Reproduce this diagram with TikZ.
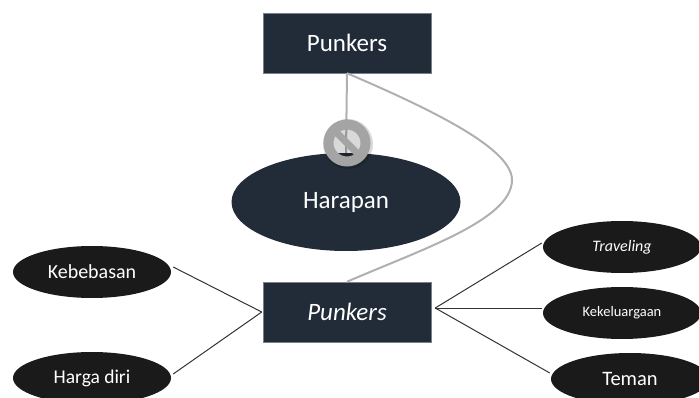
\documentclass[tikz,border=0pt]{standalone}
\usepackage{fontspec}
\setmainfont{Carlito}
\definecolor{navy}{HTML}{222B38}
\definecolor{coal}{HTML}{1A1A1A}
\definecolor{ringgray}{HTML}{A4A4A4}
\definecolor{edgegray}{HTML}{B0B0B0}
\tikzset{
    box/.style={rectangle, fill=navy, draw=navy!60, line width=0.5pt, text=white, minimum width=168pt, minimum height=60pt, inner sep=0pt, font=\fontsize{25}{28}\selectfont},
    bubble/.style={ellipse, fill=coal, text=white, minimum width=158pt, minimum height=52pt, inner sep=0pt},
    link/.style={draw=black!80, line width=1pt},
    soft/.style={draw=edgegray, line width=2pt},
}
\usetikzlibrary{shapes.geometric}
\begin{document}
\begin{tikzpicture}[x=1pt, y=-1pt]
    \clip (0,0) rectangle (699,398);
    \node[box] (punkersA) at (347,43) {Punkers};
    \node[box] (punkersB) at (347,312) {\itshape Punkers};
    \node[ellipse, fill=navy, text=white, minimum width=229pt, minimum height=98pt, inner sep=0pt, font=\fontsize{25}{28}\selectfont] (harapan) at (346,202) {Harapan};
    \node[bubble, font=\fontsize{20}{22}\selectfont] (kebebasan) at (92,272) {Kebebasan};
    \node[bubble, font=\fontsize{19.5}{22}\selectfont] (harga) at (92,378) {Harga diri};
    \node[bubble, font=\fontsize{16}{18}\selectfont\itshape] (traveling) at (622,247) {Traveling};
    \node[bubble, font=\fontsize{14.5}{18}\selectfont] (keluarga) at (622,313) {Kekeluargaan};
    \node[bubble, font=\fontsize{20.5}{22}\selectfont] (teman) at (630,379) {Teman};
    \path[link] ([shift={(2,-5)}]kebebasan.east) -- ([xshift=-1pt]punkersB.west);
    \path[link] ([shift={(2,-4)}]harga.east) -- ([xshift=-1pt]punkersB.west);
    \path[link] ([shift={(4,-4)}]punkersB.east) -- ([shift={(-1,-4)}]traveling.west);
    \path[link] ([shift={(4,-4)}]punkersB.east) -- ([shift={(-1,-5)}]keluarga.west);
    \path[link] ([shift={(4,-4)}]punkersB.east) -- ([shift={(-1,-6)}]teman.west);
    \path[soft] (punkersA.south) .. controls (440,113) and (512,150) .. (512,180) .. controls (512,220) and (420,250) .. (punkersB.north);
    \path[soft] (punkersA.south) -- (harapan.north);
    % blocked sign
    \fill[black, opacity=0.15] (348,144) circle (25);
    \node[circle, draw=ringgray, line width=10pt, minimum size=37pt, inner sep=0pt, outer sep=0pt] (block) at (347,143) {};
    \path[draw=ringgray, line width=7pt] (block.135) -- (block.-45);
\end{tikzpicture}
\end{document}
